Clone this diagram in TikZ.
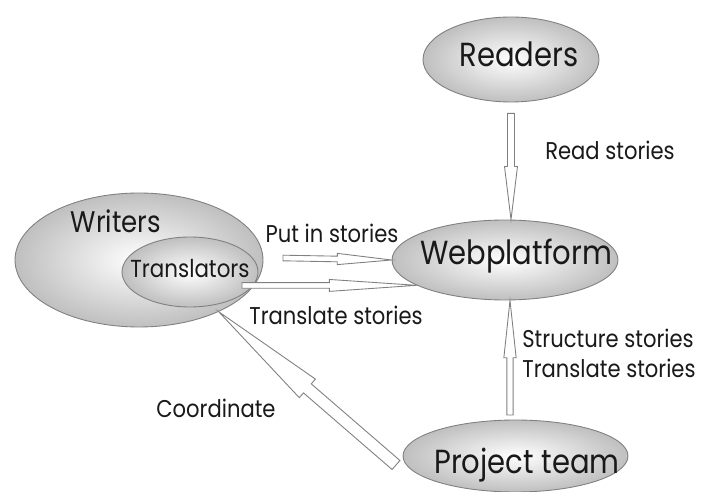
\documentclass[tikz,border=0pt]{standalone}
\usepackage{fontspec}
\setmainfont{Poppins}[FakeStretch=0.87]
\usetikzlibrary{shapes.geometric,calc}

\tikzset{
    group/.style={ellipse, draw=black!50, line width=0.5pt, inner color=white, outer color=black!25, inner sep=0pt},
    bigtext/.style={font=\fontsize{19}{19}\selectfont, anchor=base, inner sep=0pt, text=black!90},
    smalltext/.style={font=\fontsize{13.8}{13.8}\selectfont, anchor=base, inner sep=0pt, text=black!90},
    flow/.style={draw=black!50, fill=white, line width=0.5pt, line join=miter},
}

% hollow arrow: tail, tip, half shaft width, half head width
\newcommand{\hollowarrow}[4]{%
    \coordinate (mid) at ($(#1)!0.5!(#2)$);
    \draw[flow] ($(#1)!#3!90:(#2)$) -- ($(mid)!#3!90:(#2)$) -- ($(mid)!#4!90:(#2)$) -- (#2)
        -- ($(mid)!#4!-90:(#2)$) -- ($(mid)!#3!-90:(#2)$) -- ($(#1)!#3!-90:(#2)$) -- cycle;
}

\begin{document}
\begin{tikzpicture}[x=0.02cm, y=-0.02cm]
                \useasboundingbox[fill=white] (0,0) rectangle (702,492);

                % Ellipses
                \node[group, minimum width=3.52cm, minimum height=1.7cm] (readers) at (511,59.5) {};
                \node[group, minimum width=4.52cm, minimum height=1.6cm] (web) at (505,260) {};
                \node[group, minimum width=4.96cm, minimum height=2.68cm] (writers) at (139,260) {};
                \node[group, minimum width=2.72cm, minimum height=1.4cm] (trans) at (190,272) {};
                \node[group, minimum width=4.5cm, minimum height=1.44cm] (proj) at (515.5,456) {};

                % Names in the ellipses
                \node[bigtext] (readerslbl) at (519,67) {Readers};
                \node[bigtext] (weblbl) at (516,265) {Webplatform};
                \node[bigtext, font=\fontsize{17}{17}\selectfont] (writerslbl) at (116,233) {Writers};
                \node[smalltext, font=\fontsize{14}{14}\selectfont] (translbl) at (190,278) {Translators};
                \node[bigtext] (projlbl) at (527,473) {Project team};

                % Free ends
                \coordinate (readtail) at ($(readers.south)+(0,11)$);
                \coordinate (puttail) at (283,258);
                \coordinate (transtail) at (242,285.5);
                \coordinate (structtail) at (510,415);
                \coordinate (coordtail) at (396,465);

                % Arrows
                \hollowarrow{readtail}{readers.south |- web.north}{2pt}{3.7pt}
                \hollowarrow{puttail}{web.west}{1.6pt}{3.2pt}
                \hollowarrow{transtail}{web.196}{1.6pt}{3.4pt}
                \hollowarrow{structtail}{structtail |- web.south}{1.8pt}{3.5pt}
                \hollowarrow{coordtail}{writers.-33}{3.4pt}{7pt}

                % Arrow labels
                \node[smalltext] (readlbl) at (610,160) {Read stories};
                \node[smalltext] (putlbl) at (332,243) {Put in stories};
                \node[smalltext] (translatelbl) at (336,325) {Translate stories};
                \node[smalltext, anchor=base west] (structlbl) at (522,348) {Structure stories};
                \node[smalltext, anchor=base west] (structlbl2) at (522,378) {Translate stories};
                \node[smalltext] (coordlbl) at (216,418) {Coordinate};
            \end{tikzpicture}
\end{document}
